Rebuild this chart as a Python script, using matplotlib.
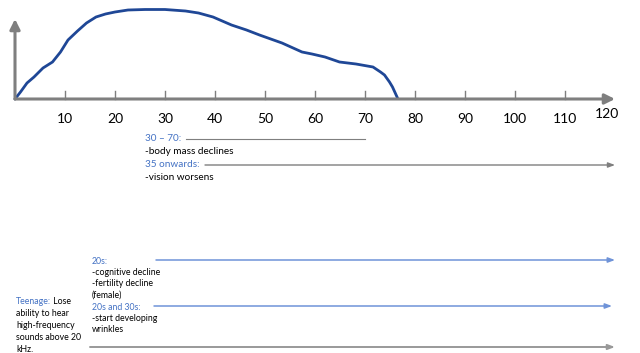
import matplotlib
matplotlib.use("Agg")
import matplotlib.pyplot as plt

plt.rcParams['font.family'] = ['Lato', 'DejaVu Sans']

# hand drawn "capacity over life" curve
ages = [0, 1.1, 2.4, 3.8, 5.6, 7.5, 9.1, 10.6, 12.5, 14.3, 16.2, 18.1, 20, 22.6,
        26, 30, 34.1, 36.7, 39.6, 43.3, 46.3, 48.9, 53.4, 57.4, 59.4, 62.0,
        64.9, 68.2, 71.6, 73.1, 73.9, 74.9, 75.5, 76.5]
level = [0, 7, 16, 22, 31, 37, 47, 59, 68, 76, 82, 85, 87, 89,
         89.5, 89.5, 88, 86, 82, 74, 69, 64, 56, 47, 45, 42,
         37, 35, 32, 27, 24, 17, 12, 1]

tick_ages = [10, 20, 30, 40, 50, 60, 70, 80, 90, 100, 110]
last_tick = 120

# (label, rest of lines, line start age, line end age, arrow?)
upper_notes = [
    ("30 \u2013 70:", ["-body mass declines"], 34.2, 70, False),
    ("35 onwards:", ["-vision worsens"], 38.0, 120, True),
]
lower_notes = [
    ("20s:", ["-cognitive decline", "-fertility decline", "(female)"], 28.2, 120, True),
    ("20s and 30s:", ["-start developing", "wrinkles"], 27.8, 119.4, True),
]
teen_head = "Teenage:"
teen_lines = [" Lose", "ability to hear", "high-frequency", "sounds above 20", "kHz."]

BLUE_TXT = "#4472c4"
BLUE_LINE = "#6f93d8"
CURVE = "#1f4796"
GRAY = "#7f7f7f"

fig = plt.figure(figsize=(6.4, 3.53), dpi=100)
ax = fig.add_axes([0, 0, 1, 1])
ax.axis("off")
px = 5.0  # pixels per year
x_origin = 15
ax.set_xlim(-x_origin / px, (640 - x_origin) / px)
ax.set_ylim(-254, 99)

# axes drawn by hand like the sketch
ax.annotate("", xy=(120, 0), xytext=(0, 0),
            arrowprops=dict(arrowstyle="-|>,head_length=0.6,head_width=0.3",
                            color=GRAY, lw=2.2, shrinkA=0, shrinkB=0))
ax.annotate("", xy=(0, 80), xytext=(0, 0),
            arrowprops=dict(arrowstyle="-|>,head_length=0.6,head_width=0.3",
                            color=GRAY, lw=2.2, shrinkA=0, shrinkB=0))
for t in tick_ages:
    ax.plot([t, t], [0, 8], color=GRAY, lw=1)
    ax.text(t, -20, str(t), ha="center", va="center", fontsize=10, color="black")
ax.text(last_tick - 1.6, -15, str(last_tick), ha="center", va="center",
        fontsize=10, color="black")

ax.plot(ages, level, color=CURVE, lw=2, solid_capstyle="round",
        solid_joinstyle="round")

# upper notes
x0 = 26.0
y = -40
for head, rest, a, b, arrow in upper_notes:
    ax.text(x0, y, head, color=BLUE_TXT, fontsize=7.2, va="center")
    if arrow:
        ax.annotate("", xy=(b, y), xytext=(a, y),
                    arrowprops=dict(arrowstyle="-|>,head_length=0.4,head_width=0.15",
                                    color=GRAY, lw=1, shrinkA=0, shrinkB=0))
    else:
        ax.plot([a, b], [y, y], color=GRAY, lw=0.8)
    y -= 13
    for line in rest:
        ax.text(x0, y, line, color="black", fontsize=7.2, va="center")
        y -= 13

# lower notes
x1 = 15.4
y = -162
for head, rest, a, b, arrow in lower_notes:
    ax.text(x1, y, head, color=BLUE_TXT, fontsize=6.3, va="center")
    ax.annotate("", xy=(b, y + 1), xytext=(a, y + 1),
                arrowprops=dict(arrowstyle="-|>,head_length=0.4,head_width=0.15",
                                color=BLUE_LINE, lw=1.1, shrinkA=0, shrinkB=0))
    y -= 11.5
    for line in rest:
        ax.text(x1, y, line, color="black", fontsize=6.3, va="center")
        y -= 11.5

# teenage note
y = -202
head = ax.text(0.2, y, teen_head, color=BLUE_TXT, fontsize=6.3, va="center")
ax.annotate(teen_lines[0], xy=(1, 0.5), xycoords=head, va="center",
            fontsize=6.3, color="black")
for line in teen_lines[1:]:
    y -= 12
    ax.text(0.2, y, line, color="black", fontsize=6.3, va="center")

ax.annotate("", xy=(120, -248), xytext=(15.0, -248),
            arrowprops=dict(arrowstyle="-|>,head_length=0.4,head_width=0.15",
                            color="#999999", lw=1.4, shrinkA=0, shrinkB=0))

fig.savefig("out.png", dpi=100)
